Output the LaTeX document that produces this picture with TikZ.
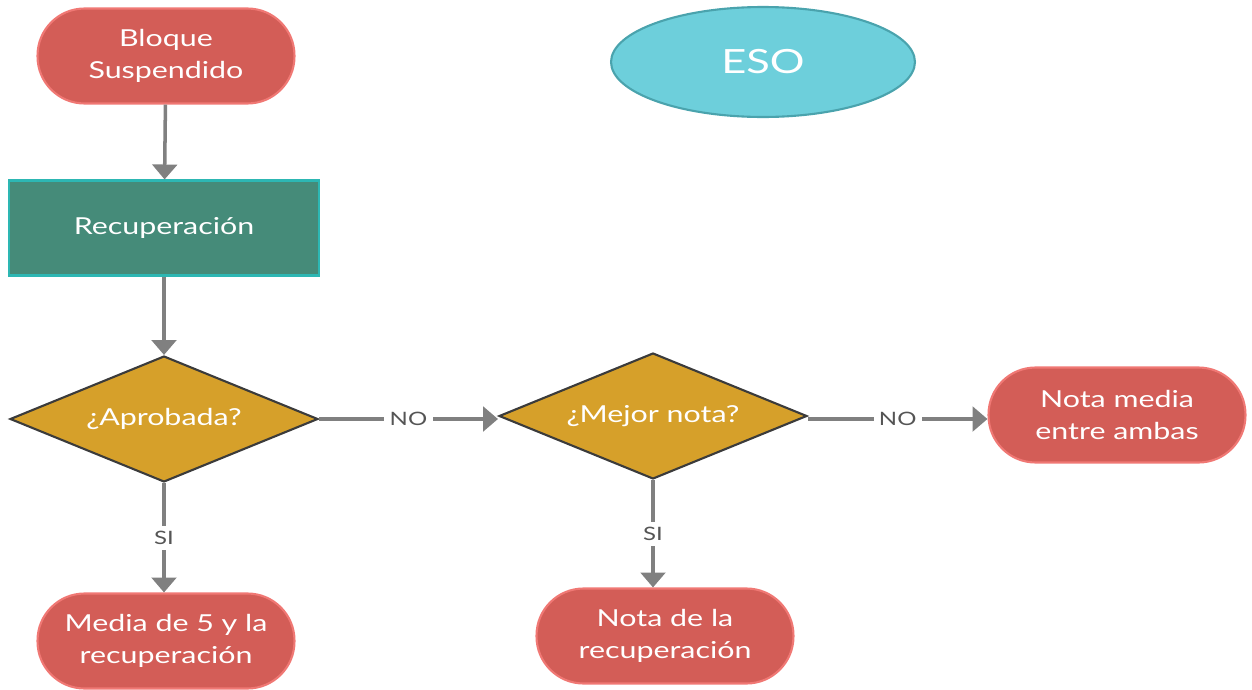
\documentclass[tikz,border=0pt]{standalone}
\usepackage{fontspec}
\setmainfont{Lato}[FakeStretch=1.3]
\usetikzlibrary{arrows.meta,positioning,shapes.geometric}
\definecolor{rojo}{HTML}{D35D57}
\definecolor{rojoborde}{HTML}{F07874}
\definecolor{verde}{HTML}{458B79}
\definecolor{verdeborde}{HTML}{2DB7B3}
\definecolor{oro}{HTML}{D6A02A}
\definecolor{oroborde}{HTML}{3B3B3B}
\definecolor{cian}{HTML}{6DCFDB}
\definecolor{cianborde}{HTML}{4AA3AD}
\definecolor{gris}{HTML}{808080}
\definecolor{etiq}{HTML}{555555}

\begin{document}
\begin{tikzpicture}[x=0.02cm,y=-0.02cm,
terminal/.style={draw=rojoborde, line width=1.2pt, fill=rojo, rounded corners=0.94cm, minimum width=5.14cm, minimum height=1.9cm, align=center, text=white, font=\fontsize{13.3}{18.4}\selectfont},
proceso/.style={draw=verdeborde, line width=1.2pt, fill=verde, minimum width=6.2cm, minimum height=1.9cm, align=center, text=white, font=\fontsize{13.3}{18.4}\selectfont},
decision/.style={diamond, draw=oroborde, line width=1.2pt, fill=oro, minimum width=6.16cm, minimum height=2.52cm, inner sep=0pt},
texto/.style={text=white, font=\fontsize{13.3}{18.4}\selectfont},
titulo/.style={ellipse, draw=cianborde, line width=1.2pt, fill=cian, minimum width=6.08cm, minimum height=2.2cm, text=white, font=\fontsize{19}{22}\selectfont},
rotulo/.style={fill=white, text=etiq, inner sep=3pt, font=\fontsize{10.5}{12}\selectfont},
seta/.style={-{Triangle[length=8.5pt,width=14pt]}, draw=gris, line width=2pt}
]
\useasboundingbox (0,0) rectangle (1252,690);
\node[terminal] (bloque) at (166,56) {Bloque\\Suspendido};
\node[titulo] (eso) at (763,62) {ESO};
\node[proceso] (recup) at (164,228) {Recuperación};
\node[decision, label={[texto]center:¿Aprobada?}] (aprob) at (164,419) {};
\node[decision, label={[texto]center:¿Mejor nota?}] (mejor) at (653,416) {};
\node[terminal] (media) at (1117,415) {Nota media\\entre ambas};
\node[terminal] (cinco) at (166,641) {Media de 5 y la\\recuperación};
\node[terminal] (notarec) at (665,636) {Nota de la\\recuperación};

\draw[seta] (bloque) -- (recup);
\draw[seta] (recup) -- (aprob);
\draw[seta] (aprob.east) -- node[rotulo] {NO} (aprob.east -| mejor.west);
\draw[seta] (aprob.east -| mejor.east) -- node[rotulo] {NO} (aprob.east -| media.west);
\draw[seta] (aprob.south) -- node[rotulo] {SI} (aprob.south |- cinco.north);
\draw[seta] (mejor.south) -- node[rotulo] {SI} (mejor.south |- notarec.north);
\end{tikzpicture}
\end{document}
